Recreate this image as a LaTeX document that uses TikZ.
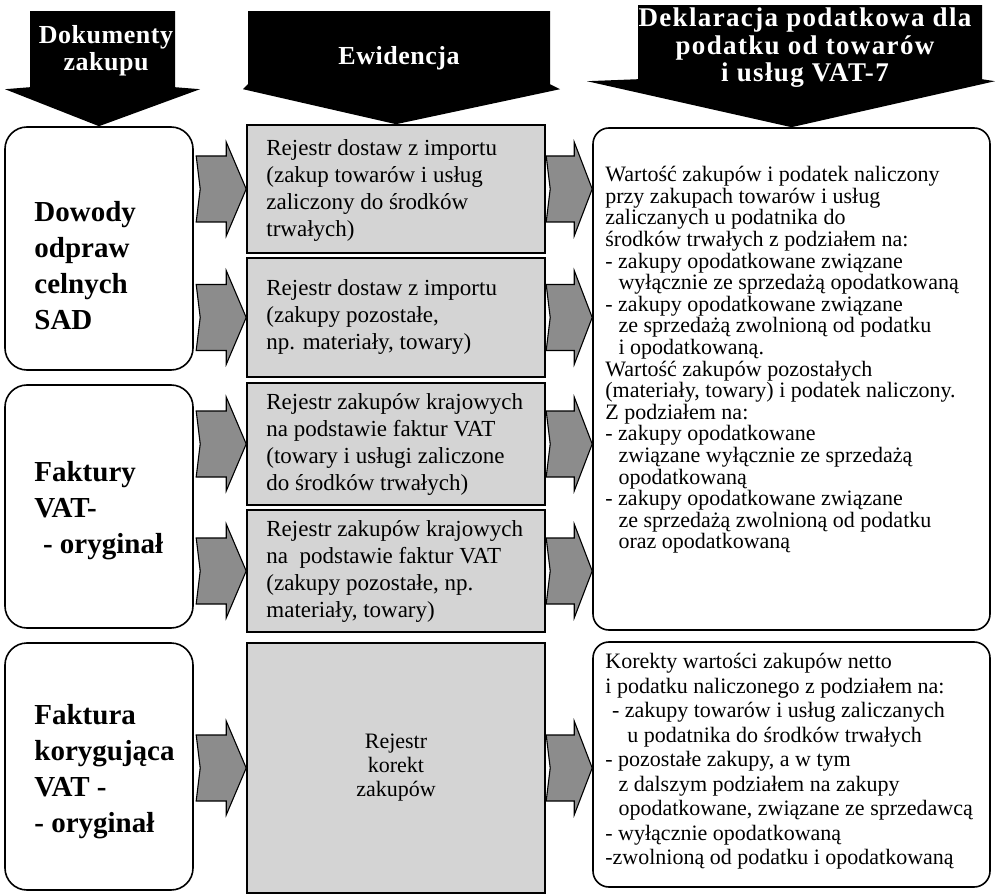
\documentclass[tikz,border=0pt]{standalone}
\usepackage{fontspec}
\setmainfont{Liberation Serif}
\usetikzlibrary{positioning}

\begin{document}
\begin{tikzpicture}[x=1pt,y=-1pt,
  docbox/.style={draw=black, line width=1.6pt, rounded corners=22pt, fill=white, minimum width=188pt},
  regbox/.style={draw=black, line width=1.6pt, fill=black!17, minimum width=298pt},
  declbox/.style={draw=black, line width=1.6pt, rounded corners=16pt, fill=white, minimum width=397pt},
  greyarrow/.style={draw=black, line width=1.1pt, fill=black!45, line join=miter},
  headtext/.style={text=white, font=\fontsize{26}{27.5}\selectfont\bfseries\addfontfeatures{LetterSpace=2}, align=center, inner sep=0pt},
  doctext/.style={font=\fontsize{29}{36}\selectfont\bfseries, align=left, inner sep=0pt},
  regtext/.style={font=\fontsize{23}{27}\selectfont, align=left, inner sep=0pt},
  decltext/.style={font=\fontsize{22}{21.6}\selectfont, align=left, inner sep=0pt}
]

\useasboundingbox (0,0) rectangle (997,896);

% documents
\node[docbox, minimum height=243pt] (dowody) at (99,248.5) {};
\node[docbox, minimum height=243pt] (faktury) at (99,506.5) {};
\node[docbox, minimum height=247pt] (korekta) at (99,766.5) {};

% registers
\node[regbox, minimum height=128pt] (importa) at (396,189) {};
\node[regbox, minimum height=119pt] (importb) at (396,317.5) {};
\node[regbox, minimum height=122pt] (krajowea) at (396,444) {};
\node[regbox, minimum height=122pt] (krajoweb) at (396,571) {};
\node[regbox, minimum height=250pt] (korekty) at (396,768) {};

% declaration
\node[declbox, minimum height=502pt] (vata) at (791.5,379) {};
\node[declbox, minimum height=245pt] (vatb) at (791.5,764.5) {};

% black arrows
\fill[black] (dowody.north) -- ++(-94,-37) -- ++(25,-2) -- ++(0,-76) -- ++(145,0) -- ++(0,76) -- ++(25,2) -- cycle;
\fill[black] (importa.north) -- ++(-153,-35) -- ++(5,-5) -- ++(0,-73) -- ++(302,0) -- ++(0,73) -- ++(10,5) -- cycle;
\fill[black] (vata.north) -- ++(-204.5,-46) -- ++(51,-2) -- ++(0,-74) -- ++(344,0) -- ++(0,74) -- ++(13,2) -- cycle;

\node[headtext] (dokumenty) at (106,51) {Dokumenty\\zakupu};
\node[headtext] (ewidencja) at (399,58) {Ewidencja};
\node[headtext, font=\fontsize{27}{27.5}\selectfont\bfseries\addfontfeatures{LetterSpace=5}] (deklaracja) at (805,48) {Deklaracja podatkowa dla\\podatku od towarów\\i usług VAT-7};

% grey arrows
\draw[greyarrow] (importa.west) -- ++(-20,-47) -- ++(0,14) -- ++(-30,0) -- ++(4,33) -- ++(-4,33) -- ++(30,0) -- ++(0,14) -- cycle;
\draw[greyarrow] (importb.west) -- ++(-20,-47) -- ++(0,14) -- ++(-30,0) -- ++(4,33) -- ++(-4,33) -- ++(30,0) -- ++(0,14) -- cycle;
\draw[greyarrow] (krajowea.west) -- ++(-20,-47) -- ++(0,14) -- ++(-30,0) -- ++(4,33) -- ++(-4,33) -- ++(30,0) -- ++(0,14) -- cycle;
\draw[greyarrow] (krajoweb.west) -- ++(-20,-47) -- ++(0,14) -- ++(-30,0) -- ++(4,33) -- ++(-4,33) -- ++(30,0) -- ++(0,14) -- cycle;
\draw[greyarrow] (korekty.west) -- ++(-20,-47) -- ++(0,14) -- ++(-30,0) -- ++(4,33) -- ++(-4,33) -- ++(30,0) -- ++(0,14) -- cycle;

\draw[greyarrow] (importa.east -| vata.west) -- ++(-18,-47) -- ++(0,14) -- ++(-28,0) -- ++(4,33) -- ++(-4,33) -- ++(28,0) -- ++(0,14) -- cycle;
\draw[greyarrow] (importb.east -| vata.west) -- ++(-18,-47) -- ++(0,14) -- ++(-28,0) -- ++(4,33) -- ++(-4,33) -- ++(28,0) -- ++(0,14) -- cycle;
\draw[greyarrow] (krajowea.east -| vata.west) -- ++(-18,-47) -- ++(0,14) -- ++(-28,0) -- ++(4,33) -- ++(-4,33) -- ++(28,0) -- ++(0,14) -- cycle;
\draw[greyarrow] (krajoweb.east -| vata.west) -- ++(-18,-47) -- ++(0,14) -- ++(-28,0) -- ++(4,33) -- ++(-4,33) -- ++(28,0) -- ++(0,14) -- cycle;
\draw[greyarrow] (korekty.east -| vatb.west) -- ++(-18,-47) -- ++(0,14) -- ++(-28,0) -- ++(4,33) -- ++(-4,33) -- ++(28,0) -- ++(0,14) -- cycle;

% texts
\node[doctext, right=30pt of dowody.west, yshift=-17pt] (dowodyt) {Dowody\\odpraw\\celnych\\SAD};
\node[doctext, right=30pt of faktury.west, yshift=-4pt] (fakturyt) {Faktury\\VAT-\\\hspace{0.3em}- oryginał};
\node[doctext, right=30pt of korekta.west, yshift=-5pt] (korektat) {Faktura\\korygująca\\VAT -\\- oryginał};

\node[regtext, right=20pt of importa.west, yshift=-2pt] (importat) {Rejestr dostaw z importu\\(zakup towarów i usług\\zaliczony do środków\\trwałych)};
\node[regtext, right=20pt of importb.west] (importbt) {Rejestr dostaw z importu\\(zakupy pozostałe,\\np. materiały, towary)};
\node[regtext, right=20pt of krajowea.west] (krajoweat) {Rejestr zakupów krajowych\\na podstawie faktur VAT\\(towary i usługi zaliczone\\do środków trwałych)};
\node[regtext, right=20pt of krajoweb.west] (krajowebt) {Rejestr zakupów krajowych\\na \ podstawie faktur VAT\\(zakupy pozostałe, np.\\materiały, towary)};
\node[regtext, font=\fontsize{22}{24}\selectfont, align=center] (korektyt) at (korekty) {Rejestr\\korekt\\zakupów};

\node[decltext, below right=39pt and 13pt of vata.north west] (vatat) {Wartość zakupów i podatek naliczony\\
przy zakupach towarów i usług\\
zaliczanych u podatnika do\\
środków trwałych z podziałem na:\\
- zakupy opodatkowane związane\\
\hspace{0.6em}wyłącznie ze sprzedażą opodatkowaną\\
- zakupy opodatkowane związane\\
\hspace{0.6em}ze sprzedażą zwolnioną od podatku\\
\hspace{0.6em}i opodatkowaną.\\
Wartość zakupów pozostałych\\
(materiały, towary) i podatek naliczony.\\
Z podziałem na:\\
- zakupy opodatkowane\\
\hspace{0.6em}związane wyłącznie ze sprzedażą\\
\hspace{0.6em}opodatkowaną\\
- zakupy opodatkowane związane\\
\hspace{0.6em}ze sprzedażą zwolnioną od podatku\\
\hspace{0.6em}oraz opodatkowaną};

\node[decltext, font=\fontsize{22}{24.5}\selectfont, below right=12pt and 13pt of vatb.north west] (vatbt) {Korekty wartości zakupów netto\\
i podatku naliczonego z podziałem na:\\
\hspace{0.3em}- zakupy towarów i usług zaliczanych\\
\hspace{1em}u podatnika do środków trwałych\\
- pozostałe zakupy, a w tym\\
\hspace{0.6em}z dalszym podziałem na zakupy\\
\hspace{0.6em}opodatkowane, związane ze sprzedawcą\\
- wyłącznie opodatkowaną\\
-zwolnioną od podatku i opodatkowaną};

\end{tikzpicture}
\end{document}
